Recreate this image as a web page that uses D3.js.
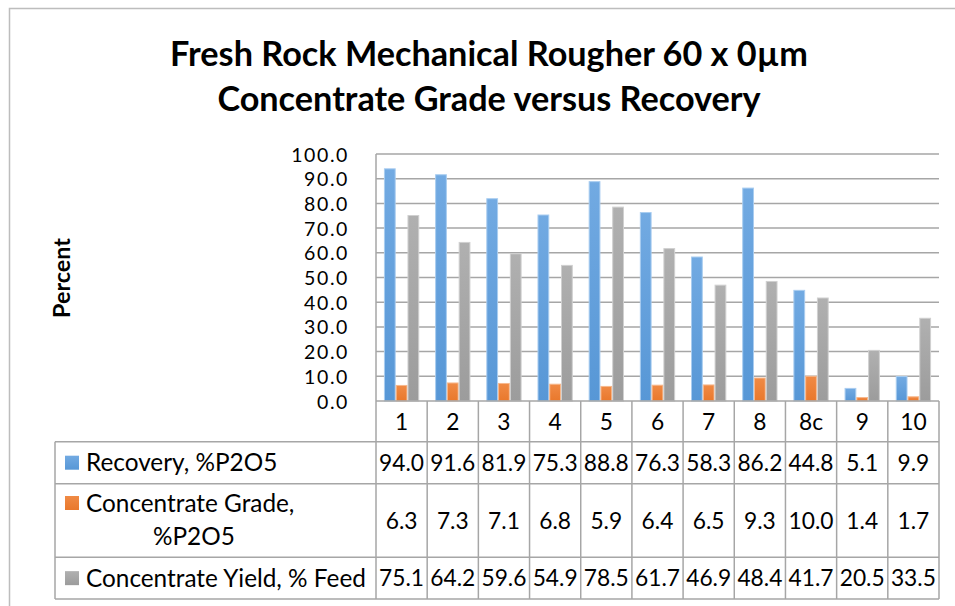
<!DOCTYPE html>
<html>
<head>
<meta charset="utf-8">
<script src="https://cdn.jsdelivr.net/npm/d3@7"></script>
<style>
  html, body { margin: 0; padding: 0; background: #fff; }
  svg { display: block; font-family: Lato, "Open Sans", sans-serif; }
</style>
</head>
<body>
<svg id="chart" width="955" height="606"></svg>
<script>
// Test runs and measured results
const categories = ["1", "2", "3", "4", "5", "6", "7", "8", "8c", "9", "10"];
const recovery = [94.0, 91.6, 81.9, 75.3, 88.8, 76.3, 58.3, 86.2, 44.8, 5.1, 9.9];
const grade    = [6.3, 7.3, 7.1, 6.8, 5.9, 6.4, 6.5, 9.3, 10.0, 1.4, 1.7];
const yieldPct = [75.1, 64.2, 59.6, 54.9, 78.5, 61.7, 46.9, 48.4, 41.7, 20.5, 33.5];
const seriesNames = ["Recovery, %P2O5", "Concentrate Grade, %P2O5", "Concentrate Yield, % Feed"];
const yTicks = [0, 10, 20, 30, 40, 50, 60, 70, 80, 90, 100];
const titleLines = ["Fresh Rock Mechanical Rougher 60 x 0\u00b5m", "Concentrate Grade versus Recovery"];
const yTitle = "Percent";

const series = [
  { name: seriesNames[0], values: recovery, top: "#72aae2", bottom: "#5797d6", edge: "#a9cdf0" },
  { name: seriesNames[1], values: grade,    top: "#f08a45", bottom: "#e9782c", edge: "#f7b88c" },
  { name: seriesNames[2], values: yieldPct, top: "#b0b0b0", bottom: "#9c9c9c", edge: "#d0d0d0" }
];

const svg = d3.select("#chart");
const gridColor = "#a6a6a6";

const plot = { left: 376, right: 939, top: 154, bottom: 401 };
const table = { left: 55, headerBottom: 441.7, rowBottoms: [483.7, 557.3, 599] };

const x = d3.scaleBand().domain(categories).range([plot.left, plot.right]).paddingInner(0).paddingOuter(0);
const y = d3.scaleLinear().domain([0, 100]).range([plot.bottom, plot.top]);
const groupPad = x.bandwidth() * 0.155;
const x1 = d3.scaleBand().domain(series.map(s => s.name))
  .range([groupPad, x.bandwidth() - groupPad]).paddingInner(0);

// Shrink or grow a font size so a reference string spans the given width
function fitSize(text, weight, startSize, target) {
  const t = svg.append("text").attr("font-size", startSize).attr("font-weight", weight).text(text);
  const w = t.node().getComputedTextLength();
  t.remove();
  return startSize * target / w;
}

// Chart frame
svg.append("path")
  .attr("d", "M9.5,606 V8.5 H955")
  .attr("fill", "none").attr("stroke", "#bdbdbd").attr("stroke-width", 1.5);

// Title
const titleSize = fitSize(titleLines[0], "bold", 30, 638);
svg.append("g").selectAll("text").data(titleLines).join("text")
  .attr("x", 489).attr("y", (d, i) => 66 + i * 45)
  .attr("text-anchor", "middle").attr("font-weight", "bold")
  .attr("font-size", titleSize).attr("fill", "#000").text(d => d);

// Gradients for bars
const defs = svg.append("defs");
series.forEach((s, i) => {
  const g = defs.append("linearGradient").attr("id", "grad" + i)
    .attr("x1", 0).attr("y1", 0).attr("x2", 0).attr("y2", 1);
  g.append("stop").attr("offset", "0%").attr("stop-color", s.top);
  g.append("stop").attr("offset", "100%").attr("stop-color", s.bottom);
});

// Horizontal gridlines
svg.append("g").selectAll("line").data(yTicks.filter(t => t > 0)).join("line")
  .attr("x1", plot.left).attr("x2", plot.right)
  .attr("y1", d => y(d)).attr("y2", d => y(d))
  .attr("stroke", gridColor).attr("stroke-width", 1.5);

// Y axis tick labels
const yAxis = d3.axisLeft(y).tickValues(yTicks).tickFormat(d3.format(".1f")).tickSize(0).tickPadding(27);
const yg = svg.append("g").attr("transform", `translate(${plot.left},0)`).call(yAxis);
yg.select(".domain").remove();
yg.selectAll("text").attr("font-size", 19.5).attr("letter-spacing", 1.6)
  .attr("font-family", "Lato, 'Open Sans', sans-serif")
  .attr("fill", "#000").attr("dy", "0.36em");

// Y axis title
const yTitleSize = fitSize(yTitle, "bold", 20, 80);
svg.append("text")
  .attr("transform", "translate(62,278) rotate(-90)")
  .attr("text-anchor", "middle").attr("dy", "0.36em")
  .attr("font-weight", "bold").attr("font-size", yTitleSize).text(yTitle);

// Bars
const groups = svg.append("g").selectAll("g").data(categories).join("g")
  .attr("transform", d => `translate(${x(d)},0)`);
groups.selectAll("rect")
  .data((c, ci) => series.map((s, si) => ({ s, si, v: s.values[ci] })))
  .join("rect")
  .attr("x", d => x1(d.s.name) + 0.5)
  .attr("width", x1.bandwidth() - 1)
  .attr("y", d => y(d.v))
  .attr("height", d => y(0) - y(d.v))
  .attr("fill", d => `url(#grad${d.si})`)
  .attr("stroke", d => d.s.edge).attr("stroke-width", 1);

// Data table grid
const grid = svg.append("g").attr("stroke", gridColor).attr("stroke-width", 1.5).attr("fill", "none");
// baseline / top of header row
grid.append("line").attr("x1", plot.left).attr("x2", plot.right).attr("y1", plot.bottom).attr("y2", plot.bottom);
// left axis line
grid.append("line").attr("x1", plot.left).attr("x2", plot.left).attr("y1", plot.top).attr("y2", table.rowBottoms[2]);
// column separators in table
grid.selectAll(".col").data(categories).join("line")
  .attr("x1", d => x(d) + x.bandwidth()).attr("x2", d => x(d) + x.bandwidth())
  .attr("y1", plot.bottom).attr("y2", table.rowBottoms[2]);
// row lines
[table.headerBottom, ...table.rowBottoms].forEach(yy => {
  grid.append("line").attr("x1", table.left).attr("x2", plot.right).attr("y1", yy).attr("y2", yy);
});
grid.append("line").attr("x1", table.left).attr("x2", table.left).attr("y1", table.headerBottom).attr("y2", table.rowBottoms[2]);

// Category header labels
const cellSize = fitSize("48.4", "normal", 24, 45);
svg.append("g").selectAll("text").data(categories).join("text")
  .attr("x", d => x(d) + x.bandwidth() / 2).attr("y", (plot.bottom + table.headerBottom) / 2)
  .attr("dy", "0.36em").attr("text-anchor", "middle")
  .attr("font-size", cellSize).text(d => d);

// Table values
const rowTops = [table.headerBottom, ...table.rowBottoms.slice(0, 2)];
const rowCenters = rowTops.map((t, i) => (t + table.rowBottoms[i]) / 2);
series.forEach((s, si) => {
  svg.append("g").selectAll("text").data(categories).join("text")
    .attr("x", d => x(d) + x.bandwidth() / 2).attr("y", rowCenters[si])
    .attr("dy", "0.36em").attr("text-anchor", "middle")
    .attr("font-size", cellSize).text((d, i) => d3.format(".1f")(s.values[i]));
});

// Legend keys and row labels
const labelSize = fitSize(seriesNames[2], "normal", 24, 280);
const labelLines = [[seriesNames[0]], ["Concentrate Grade,", "%P2O5"], [seriesNames[2]]];
const lineCenters = [[rowCenters[0]], [503, 536], [rowCenters[2]]];
series.forEach((s, si) => {
  svg.append("rect")
    .attr("x", 65).attr("y", lineCenters[si][0] - 7).attr("width", 14).attr("height", 14)
    .attr("fill", `url(#grad${si})`);
  labelLines[si].forEach((ln, li) => {
    svg.append("text")
      .attr("x", li === 0 ? 86 : 153).attr("y", lineCenters[si][li]).attr("dy", "0.36em")
      .attr("font-size", labelSize).text(ln);
  });
});
</script>
</body>
</html>
